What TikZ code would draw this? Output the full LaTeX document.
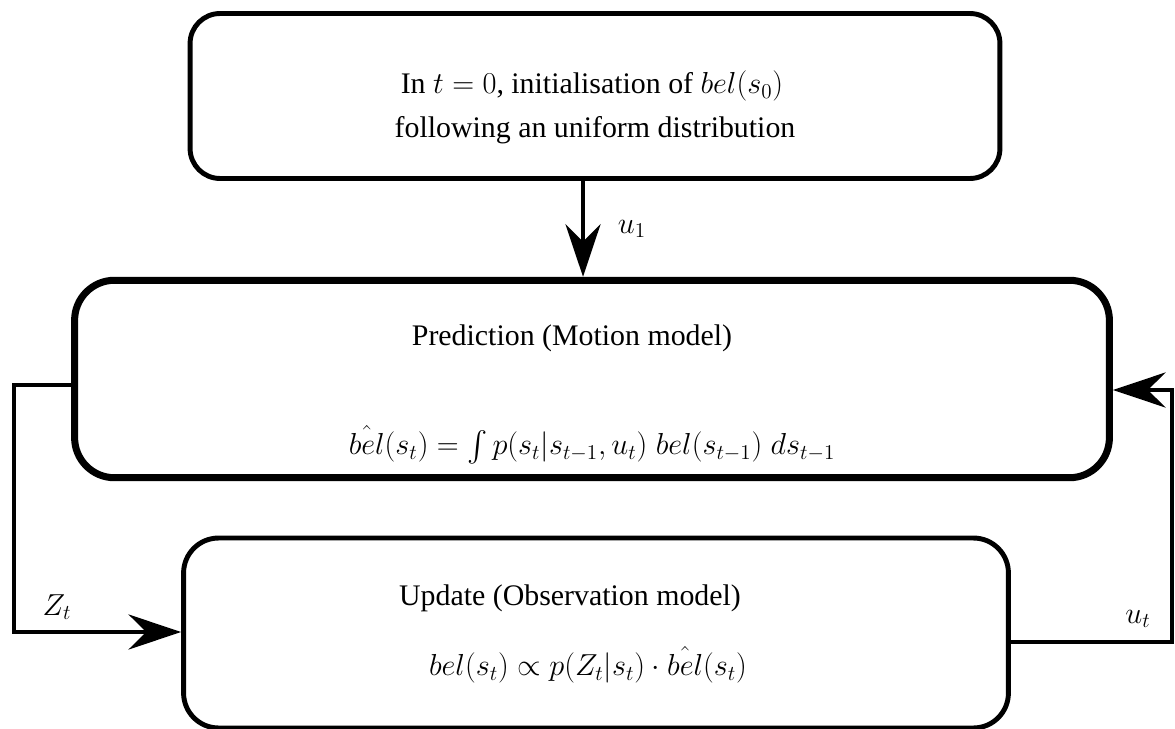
\documentclass[tikz,border=0pt]{standalone}
\usepackage{amsmath}
\usepackage[no-math]{fontspec}
\setmainfont{Liberation Serif}
\usetikzlibrary{arrows.meta}

\begin{document}
\begin{tikzpicture}[x=0.02cm, y=-0.02cm,
		stagebox/.style={draw, line width=2.8pt, rounded corners=0.6cm, align=center, inner sep=0pt},
		flow/.style={line width=2.8pt, -{Stealth[length=1.05cm, width=0.7cm, inset=0.35cm]}},
		lbl/.style={font=\fontsize{18}{20}\selectfont}
	]
	\useasboundingbox (0,0) rectangle (1175,729);
	\fontsize{17}{20}\selectfont
	\node[stagebox, minimum width=16.2cm, minimum height=3.3cm] (init) at (595,96) {};
	\node (inittop) at (592,86) {In $t=0$, initialisation of $bel(s_0)$};
	\node (initbot) at (595,130) {following an uniform distribution};

	\node[stagebox, line width=4pt, rounded corners=0.8cm, minimum width=20.7cm, minimum height=3.95cm] (pred) at (592,379) {};
	\node (predtitle) at (572,338) {Prediction (Motion model)};
	\node (predeq) at (592,445) {$\hat{bel}(s_t) = \int p(s_t|s_{t-1},u_t)\; bel(s_{t-1})\; ds_{t-1}$};

	\node[stagebox, rounded corners=0.7cm, minimum width=16.5cm, minimum height=3.8cm] (upd) at (596,633) {};
	\node (updtitle) at (570,598) {Update (Observation model)};
	\node (updeq) at (588,665) {$bel(s_t) \propto p(Z_t|s_t) \cdot \hat{bel}(s_t)$};

	\draw[flow] (init.south -| 583,0) -- (pred.north -| 583,0) node[lbl, midway, right=0.45cm] {$u_1$};

	\coordinate (zl) at (14,385);
	\draw[flow] (pred.west |- zl) -- (zl) -- (zl |- 0,632) -- (upd.west |- 0,632);
	\node[lbl] (zt) at (57,607) {$Z_t$};

	\coordinate (ur) at (1172,642);
	\draw[flow] (upd.east |- ur) -- (ur) -- (ur |- 0,390) -- (pred.east |- 0,390);
	\node[lbl] (ut) at (1138,619) {$u_t$};
\end{tikzpicture}
\end{document}
